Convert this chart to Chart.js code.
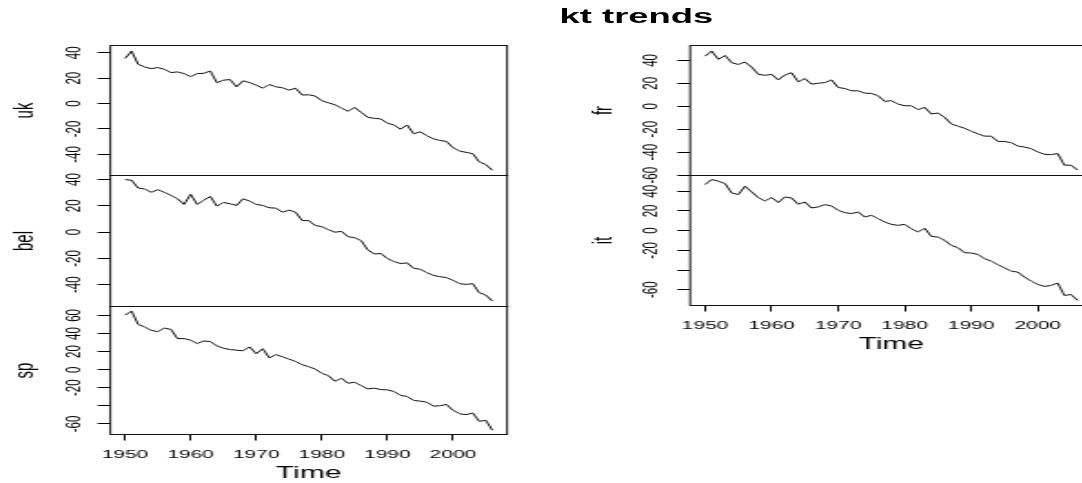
<!DOCTYPE html>
<html><head><meta charset="utf-8">
<script src="https://cdn.jsdelivr.net/npm/chart.js@4.4.1/dist/chart.umd.min.js"></script>
<style>
html,body{margin:0;padding:0;background:#fff;overflow:hidden;width:1082px;height:483px;}
#stage{position:absolute;left:0;top:0;width:620px;height:483px;transform:scaleX(1.82);transform-origin:0 0;}
#stage canvas{position:absolute;}
#title{position:absolute;left:249.7px;width:200px;top:6px;text-align:center;font:bold 20px 'Liberation Sans',Arial,sans-serif;line-height:20px;color:#000;white-space:nowrap;}
</style></head><body>
<div id="stage"><div id="title">kt trends</div></div>
<script>
const years = [1950,1951,1952,1953,1954,1955,1956,1957,1958,1959,1960,1961,1962,1963,1964,1965,1966,1967,1968,1969,1970,1971,1972,1973,1974,1975,1976,1977,1978,1979,1980,1981,1982,1983,1984,1985,1986,1987,1988,1989,1990,1991,1992,1993,1994,1995,1996,1997,1998,1999,2000,2001,2002,2003,2004,2005,2006];
const uk = [35.5,41.3,30.9,28.8,27.5,28.3,27.0,24.4,24.9,23.6,21.2,23.6,23.8,25.6,16.5,18.4,18.9,13.2,17.9,16.5,14.5,12.1,15.0,13.2,12.4,10.6,12.1,6.7,6.9,5.9,2.2,0.6,-0.9,-3.5,-6.1,-3.0,-6.9,-10.8,-11.6,-12.1,-15.5,-16.8,-20.2,-16.8,-23.8,-22.2,-25.3,-27.7,-29.0,-29.8,-34.7,-37.3,-38.4,-39.4,-45.9,-48.0,-52.5];
const bel = [40.0,39.5,33.6,32.8,30.3,32.3,30.3,28.0,25.4,21.1,28.8,21.1,24.2,27.2,19.8,22.6,21.6,20.3,25.4,23.6,21.1,20.3,18.5,18.3,15.2,16.7,15.2,8.8,8.8,5.0,4.2,1.9,-0.1,0.6,-3.5,-4.2,-6.5,-13.4,-16.7,-16.2,-20.1,-22.4,-23.9,-23.4,-27.5,-28.3,-30.8,-32.9,-33.9,-34.6,-36.7,-39.2,-39.8,-39.2,-46.1,-47.9,-52.5];
const sp = [60.4,64.8,50.1,47.2,43.5,42.1,46.0,44.6,34.4,34.4,32.6,28.9,31.8,31.1,26.3,23.8,22.3,21.6,20.9,25.2,17.6,23.2,13.0,16.7,14.3,11.7,9.1,5.5,3.3,0.7,-4.0,-6.6,-12.8,-9.5,-15.0,-13.9,-17.6,-21.2,-20.5,-22.0,-22.3,-24.2,-28.5,-29.6,-34.0,-34.8,-35.9,-40.3,-39.9,-38.4,-45.0,-48.7,-49.8,-47.9,-57.1,-56.0,-67.0];
const fr = [43.7,48.1,40.9,44.3,38.0,36.5,38.6,34.2,27.9,27.0,27.9,23.0,27.3,29.3,21.3,24.2,19.3,20.1,20.7,23.0,16.4,15.5,13.5,13.5,11.5,11.2,9.2,4.3,4.9,2.0,0.5,0.5,-2.9,-0.9,-6.7,-5.8,-9.6,-15.3,-17.3,-19.1,-21.7,-24.0,-26.0,-26.0,-30.6,-30.6,-31.7,-34.6,-35.5,-36.9,-39.8,-41.8,-42.1,-41.2,-51.3,-51.3,-55.6];
const it = [46.8,51.9,50.2,47.8,38.3,36.6,45.1,39.3,33.6,30.2,33.6,28.5,34.2,33.2,26.8,29.1,23.0,24.1,26.4,25.1,20.7,18.3,17.3,19.0,13.9,15.6,12.2,8.8,6.4,5.4,6.4,2.0,-1.4,2.4,-5.8,-6.5,-9.8,-14.9,-17.3,-22.4,-22.7,-24.1,-28.5,-30.9,-34.6,-37.7,-41.0,-42.1,-47.1,-51.2,-54.6,-56.6,-55.6,-53.3,-65.8,-64.8,-70.9];

const xTicks = [1950,1960,1970,1980,1990,2000];
const ukTicks = [-40,-20,0,20,40];
const belTicks = [-40,-20,0,20,40];
const spTicks = [-60,-40,-20,0,20,40,60];
const frTicks = [-60,-40,-20,0,20,40];
const itTicks = [-60,-40,-20,0,20,40];
const spHidden = [-40];
const itHidden = [-40];

Chart.defaults.font.family = "'Liberation Sans', Arial, sans-serif";
Chart.defaults.color = '#000';

const cols = {
  L: {canvasLeft: 0, W: 60.6, R: 278.6, tickPad: 4.4, titlePad: 5.2},
  R: {canvasLeft: 319, W: 60.2, R: 600.3, tickPad: 5.8, titlePad: 4.2}
};
const panels = [
  {label:'uk', data:uk, ticks:ukTicks, hide:[], ymin:-56.6, ymax:45.7, col:'L', T:45.5, B:175.5, bottom:false},
  {label:'bel', data:bel, ticks:belTicks, hide:[], ymin:-56.6, ymax:43.1, col:'L', T:175.5, B:306.5, bottom:false},
  {label:'sp', data:sp, ticks:spTicks, hide:spHidden, ymin:-71.7, ymax:69.9, col:'L', T:306.5, B:434.5, bottom:true},
  {label:'fr', data:fr, ticks:frTicks, hide:[], ymin:-60.3, ymax:53, col:'R', T:45.5, B:175.5, bottom:false},
  {label:'it', data:it, ticks:itTicks, hide:itHidden, ymin:-76, ymax:56, col:'R', T:175.5, B:305.5, bottom:true}
];

const boxPlugin = {
  id: 'box',
  afterDraw(chart) {
    const a = chart.chartArea, c = chart.ctx;
    c.save();
    c.strokeStyle = '#111';
    c.lineWidth = 1;
    c.strokeRect(a.left, a.top, a.right - a.left, a.bottom - a.top);
    c.restore();
  }
};

const stage = document.getElementById('stage');
panels.forEach(p => {
  const c = cols[p.col];
  const canvasTop = Math.floor(p.T) - 10;
  const padTop = p.T - canvasTop;
  const plotH = p.B - p.T;
  const canvasH = p.bottom ? Math.round(padTop + plotH + 48.5) : Math.ceil(padTop + plotH + 10);
  const padBottom = p.bottom ? 0 : canvasH - padTop - plotH;
  const xScaleH = p.bottom ? canvasH - padTop - plotH : 0;
  const plotW = c.R - (c.canvasLeft + c.W);
  const canvasW = Math.ceil(c.W + plotW + 6);
  const cv = document.createElement('canvas');
  cv.width = canvasW; cv.height = canvasH;
  cv.style.left = c.canvasLeft + 'px'; cv.style.top = canvasTop + 'px';
  cv.style.width = canvasW + 'px'; cv.style.height = canvasH + 'px';
  stage.appendChild(cv);
  new Chart(cv, {
    type: 'line',
    data: { datasets: [{
      data: years.map((y, i) => ({x: y, y: p.data[i]})),
      borderColor: '#111', borderWidth: 1, pointRadius: 0, tension: 0, fill: false
    }]},
    options: {
      responsive: false, maintainAspectRatio: false, animation: false, devicePixelRatio: 1, events: [],
      layout: {padding: {left: 0, top: padTop, right: canvasW - c.W - plotW, bottom: padBottom}},
      plugins: {legend: {display: false}, tooltip: {enabled: false}, title: {display: false}},
      scales: {
        x: {
          type: 'linear', display: p.bottom, min: 1947.76, max: 2008.24, bounds: 'data',
          afterBuildTicks: s => { s.ticks = xTicks.map(v => ({value: v})); },
          afterFit: s => { s.height = xScaleH; s.paddingLeft = 0; s.paddingRight = 0; },
          ticks: {autoSkip: false, minRotation: 0, maxRotation: 0, padding: 7.2, font: {size: 11.5}, color: '#000', callback: v => String(v)},
          grid: {drawOnChartArea: false, drawTicks: true, tickLength: 6, color: '#000', lineWidth: 1},
          border: {display: false},
          title: {display: true, text: 'Time', font: {size: 16.5}, color: '#000', padding: {top: 0, bottom: 0}}
        },
        y: {
          type: 'linear', position: 'left', min: p.ymin, max: p.ymax, bounds: 'data',
          afterBuildTicks: s => { s.ticks = p.ticks.map(v => ({value: v})); },
          afterFit: s => { s.width = c.W; s.paddingTop = 0; s.paddingBottom = 0; },
          ticks: {autoSkip: false, minRotation: 90, maxRotation: 90, crossAlign: 'center', padding: c.tickPad, font: {size: 11.5}, color: '#000',
                  callback: v => p.hide.includes(v) ? '' : String(v)},
          grid: {drawOnChartArea: false, drawTicks: true, tickLength: 7, color: '#000', lineWidth: 1},
          border: {display: false},
          title: {display: true, text: p.label, font: {size: 15}, color: '#000', padding: {top: c.titlePad, bottom: 0}}
        }
      }
    },
    plugins: [boxPlugin]
  });
});
</script>
</body></html>
